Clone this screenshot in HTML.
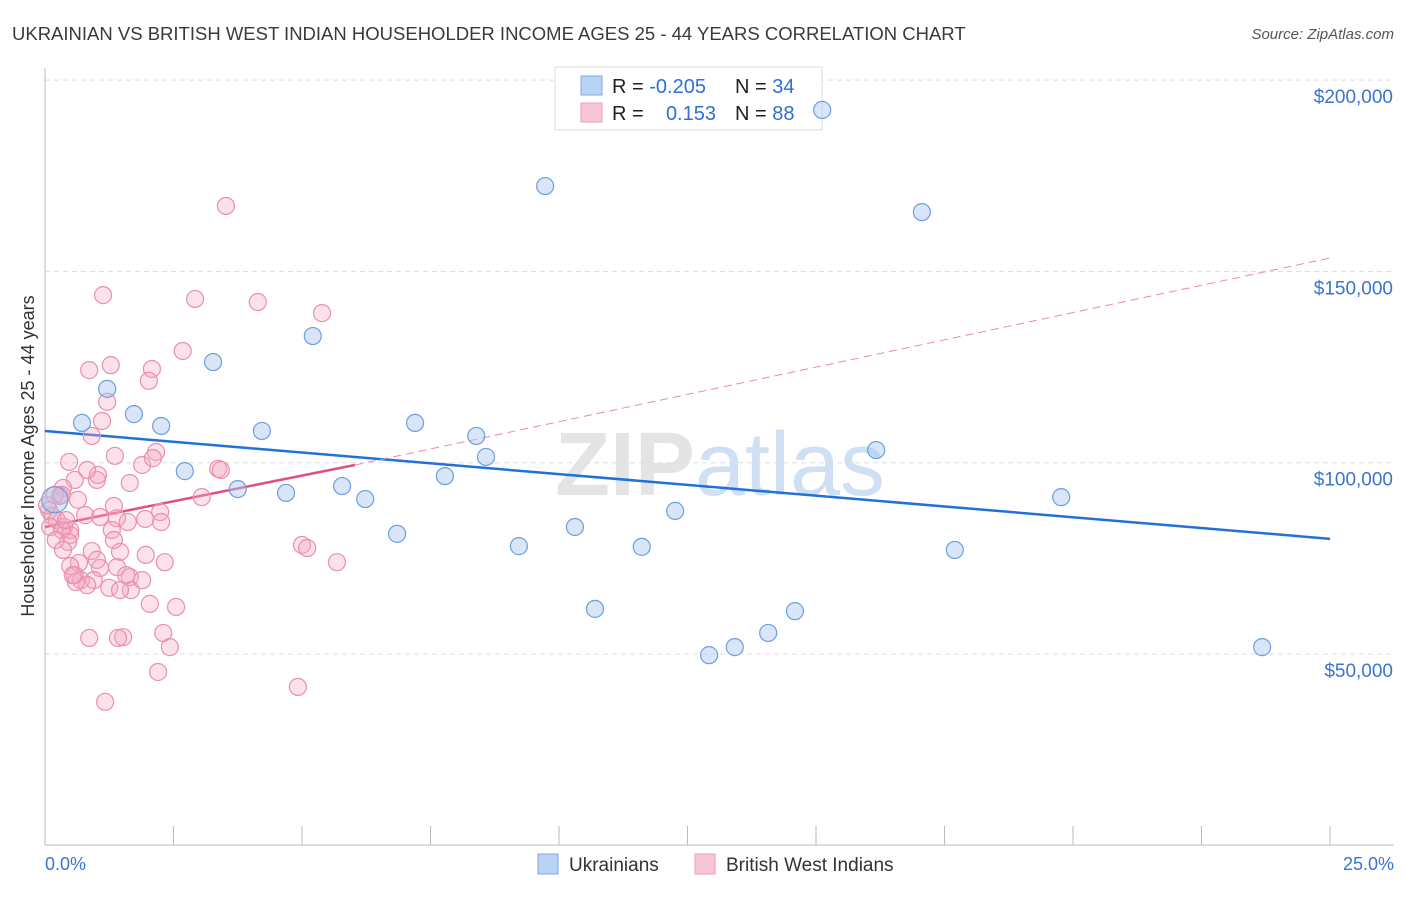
<!DOCTYPE html>
<html><head><meta charset="utf-8">
<style>
body{margin:0;background:#fff;font-family:"Liberation Sans",sans-serif;}
svg text{font-family:"Liberation Sans",sans-serif;}
</style></head>
<body>
<svg id="chart" width="1406" height="892" xmlns="http://www.w3.org/2000/svg">
<text x="12" y="40" font-size="18.5" fill="#3a3a3a">UKRAINIAN VS BRITISH WEST INDIAN HOUSEHOLDER INCOME AGES 25 - 44 YEARS CORRELATION CHART</text>
<text x="1394" y="39" font-size="15" fill="#555" font-style="italic" text-anchor="end">Source: ZipAtlas.com</text>
<text x="720" y="495" font-size="90" fill="#e4e4e4" text-anchor="middle" font-weight="bold">ZIP<tspan fill="#cfe0f4" font-weight="normal">atlas</tspan></text>
<g id="grid"></g>
<g id="axes"></g>
<g>
<rect x="555" y="67" width="267" height="63" fill="#fff" stroke="#ddd"/>
<rect x="581" y="76" width="21" height="19" fill="#b9d3f5" stroke="#7eaae6"/>
<rect x="581" y="103" width="21" height="19" fill="#f9c6d6" stroke="#ee9ab6"/>
<text x="612" y="93" font-size="20" fill="#222">R = <tspan fill="#2f6fd6">-0.205</tspan></text>
<text x="735" y="93" font-size="20" fill="#222">N = <tspan fill="#2f6fd6">34</tspan></text>
<text x="612" y="120" font-size="20" fill="#222">R = </text>
<text x="716" y="120" font-size="20" fill="#2f6fd6" text-anchor="end">0.153</text>
<text x="735" y="120" font-size="20" fill="#222">N = <tspan fill="#2f6fd6">88</tspan></text>
</g>
<g id="lines"></g>
<g id="points"></g>
<text transform="translate(34,456) rotate(-90)" font-size="18" fill="#333" text-anchor="middle">Householder Income Ages 25 - 44 years</text>
<text x="45" y="870" font-size="18" fill="#3b74d0">0.0%</text>
<text x="1394" y="870" font-size="18" fill="#3b74d0" text-anchor="end">25.0%</text>
<g>
<rect x="538" y="854" width="20" height="20" fill="#b9d3f5" stroke="#7eaae6"/>
<text x="569" y="871" font-size="19" fill="#333">Ukrainians</text>
<rect x="695" y="854" width="20" height="20" fill="#f9c6d6" stroke="#ee9ab6"/>
<text x="726" y="871" font-size="19" fill="#333">British West Indians</text>
</g>
</svg>
<script>
const yTicks=[50000,100000,150000,200000];
const yTickLabels=["$50,000","$100,000","$150,000","$200,000"];
const xTicks=[0,2.5,5,7.5,10,12.5,15,17.5,20,22.5,25];
const blueX=[15.12,9.73,17.06,5.21,3.27,1.21,0.72,1.73,2.26,4.22,7.20,8.39,8.58,2.72,3.75,4.69,5.78,6.23,7.78,16.17,19.77,12.26,10.31,6.85,9.22,11.61,17.70,10.70,14.59,14.07,13.42,12.92,23.68,0.19];
const blueY=[192.2,172.3,165.5,133.1,126.3,119.3,110.4,112.7,109.6,108.3,110.4,107.0,101.5,97.8,93.1,92.1,93.9,90.5,96.5,103.3,91.0,87.4,83.2,81.4,78.2,78.0,77.2,61.8,61.2,55.5,51.8,49.7,51.8,90.3];
const pinkX=[3.52,1.13,2.92,4.14,5.39,2.68,1.28,0.86,2.08,2.02,1.21,0.91,1.11,2.16,1.36,0.47,1.01,0.58,1.89,2.10,3.37,3.42,3.05,0.35,0.29,0.08,0.14,0.23,0.37,0.10,0.49,1.07,1.34,1.40,1.61,1.95,2.24,2.26,1.30,0.49,0.33,0.45,0.91,1.46,1.96,2.33,0.66,1.01,1.07,1.40,0.49,0.58,0.70,0.95,0.82,0.60,1.65,1.58,1.25,1.67,5.00,5.10,5.68,2.04,2.55,0.86,1.52,1.42,2.30,2.43,2.20,4.92,1.17,1.65,0.04,0.19,0.33,0.78,1.03,0.64,0.41,1.89,1.34,0.21,0.82,0.35,1.46,0.54];
const pinkY=[167.1,143.8,142.8,142.0,139.1,129.2,125.5,124.2,124.5,121.4,115.9,107.0,110.9,102.8,101.8,100.2,95.5,95.5,99.4,101.2,98.4,98.1,91.0,93.4,91.3,87.6,86.1,85.0,83.2,83.2,82.4,85.8,88.7,85.5,84.5,85.3,87.1,84.5,82.4,81.1,82.4,79.3,76.9,76.7,75.9,74.0,73.8,74.6,72.5,72.7,73.0,70.6,69.3,69.3,68.0,68.8,70.1,70.6,67.3,66.7,78.5,77.7,74.0,63.1,62.3,54.2,54.4,54.2,55.5,51.8,45.3,41.4,37.5,94.7,88.9,91.6,91.6,86.3,96.8,90.3,85.0,69.3,79.8,79.8,98.1,77.2,66.7,70.6];
const blueTrendX=[0,25], blueTrendY=[108.3,80.1];
const pinkTrendX=[0,6.03], pinkTrendY=[83.2,99.4];
const pinkDashX=[6.03,25], pinkDashY=[99.4,153.5];

const NS="http://www.w3.org/2000/svg";
const sx=p=>45+p/25*1285;
const sy=v=>654-(v-50000)/50000*191.3;
const syk=k=>sy(k*1000);
function mk(tag,attrs,parent){const e=document.createElementNS(NS,tag);for(const k in attrs)e.setAttribute(k,attrs[k]);document.getElementById(parent).appendChild(e);return e;}

yTicks.forEach((t,i)=>{
  const l=mk('line',{x1:45,x2:1394,y1:sy(t),y2:sy(t),stroke:'#ddd','stroke-dasharray':'5,4'},'grid');
  
  
  const tx=mk('text',{x:1393,y:sy(t)+23,'font-size':19,fill:'#3b74d0','text-anchor':'end'},'grid');
  tx.textContent=yTickLabels[i];
  
  
});
const ax=mk('line',{x1:45,x2:45,y1:68,y2:845,stroke:'#bbb'},'axes');


const bx=mk('line',{x1:45,x2:1394,y1:845,y2:845,stroke:'#bbb'},'axes');


xTicks.forEach(t=>{
  const l=mk('line',{x1:sx(t),x2:sx(t),y1:826,y2:845,stroke:'#bbb'},'axes');
  
  
});

const bl=mk('line',{x1:sx(blueTrendX[0]),y1:syk(blueTrendY[0]),x2:sx(blueTrendX[1]),y2:syk(blueTrendY[1]),stroke:'#2270d8','stroke-width':2.5},'lines');


const pd=mk('line',{x1:sx(pinkDashX[0]),y1:syk(pinkDashY[0]),x2:sx(pinkDashX[1]),y2:syk(pinkDashY[1]),stroke:'#e98aa9','stroke-width':1,'stroke-dasharray':'8,5'},'lines');


const pl=mk('line',{x1:sx(pinkTrendX[0]),y1:syk(pinkTrendY[0]),x2:sx(pinkTrendX[1]),y2:syk(pinkTrendY[1]),stroke:'#e0507f','stroke-width':2.5},'lines');



pinkX.forEach((x,i)=>{
  const c=mk('circle',{cx:sx(x),cy:syk(pinkY[i]),r:8.5,fill:'rgba(244,170,195,0.35)',stroke:'#ea8fae','stroke-width':1.2},'points');
  
  
});
blueX.forEach((x,i)=>{
  const r=i===blueX.length-1?13:8.5;
  const c=mk('circle',{cx:sx(x),cy:syk(blueY[i]),r:r,fill:'rgba(168,200,240,0.45)',stroke:'#6b9fe0','stroke-width':1.2},'points');
  
  
});
</script>
</body></html>
